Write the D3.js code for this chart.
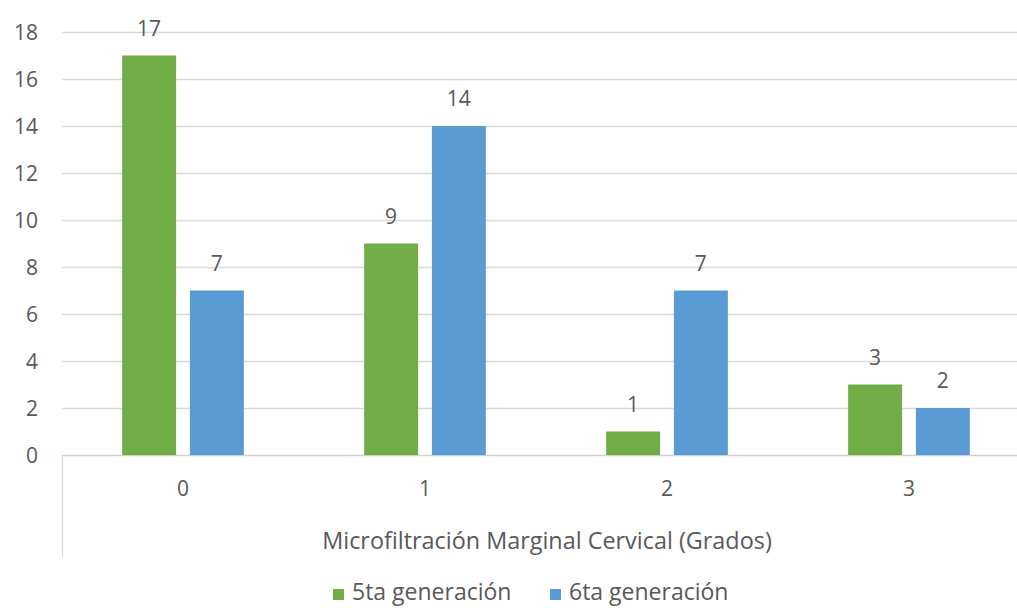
<!DOCTYPE html>
<html>
<head>
<meta charset="utf-8">
<script src="https://cdn.jsdelivr.net/npm/d3@7/dist/d3.min.js"></script>
<style>
  html, body { margin: 0; padding: 0; background: #fff; }
  svg { display: block; }
  text { font-family: "Open Sans", "Noto Sans", sans-serif; fill: #595959; }
</style>
</head>
<body>
<svg id="chart" width="1017" height="608"></svg>
<script>
// Grades of cervical marginal microleakage
const categories = ["0", "1", "2", "3"];
const seriesNames = ["5ta generación", "6ta generación"];
const gen5 = [17, 9, 1, 3];
const gen6 = [7, 14, 7, 2];
const yTicks = [0, 2, 4, 6, 8, 10, 12, 14, 16, 18];
const colors = ["#70AD47", "#5B9BD5"];
const axisTitle = "Microfiltración Marginal Cervical (Grados)";

const svg = d3.select("#chart");
const plotLeft = 62, plotRight = 1030, plotTop = 32, plotBottom = 455;

const x = d3.scaleBand().domain(categories).range([plotLeft, plotRight]).padding(0);
const y = d3.scaleLinear().domain([0, 18]).range([plotBottom, plotTop]);

const barW = x.bandwidth() * 0.223;
const gap = x.bandwidth() * 0.057;

// horizontal gridlines
svg.append("g").selectAll("line").data(yTicks.filter(d => d > 0)).join("line")
  .attr("x1", plotLeft).attr("x2", 1017)
  .attr("y1", d => Math.round(y(d)) + 0.5).attr("y2", d => Math.round(y(d)) + 0.5)
  .attr("stroke", "#d9d9d9").attr("stroke-width", 1.3);

// y tick labels
svg.append("g").selectAll("text").data(yTicks).join("text")
  .attr("x", 38).attr("y", d => y(d)).attr("dy", "0.36em")
  .attr("text-anchor", "end").attr("font-size", 21)
  .text(d => d);

// category axis baseline and left boundary
svg.append("line").attr("x1", plotLeft).attr("x2", 1017)
  .attr("y1", plotBottom + 0.5).attr("y2", plotBottom + 0.5)
  .attr("stroke", "#d0d0d0").attr("stroke-width", 1.5);
svg.append("line").attr("x1", plotLeft + 0.5).attr("x2", plotLeft + 0.5)
  .attr("y1", plotBottom).attr("y2", 557)
  .attr("stroke", "#d9d9d9").attr("stroke-width", 1.3);

// bars
const series = [gen5, gen6];
series.forEach((vals, si) => {
  const xOff = si === 0 ? -(gap / 2 + barW) : gap / 2;
  const g = svg.append("g");
  g.selectAll("rect").data(vals).join("rect")
    .attr("x", (d, i) => x(categories[i]) + x.bandwidth() / 2 + xOff)
    .attr("y", d => y(d))
    .attr("width", barW)
    .attr("height", d => y(0) - y(d))
    .attr("fill", colors[si]);
  g.selectAll("text").data(vals).join("text")
    .attr("x", (d, i) => x(categories[i]) + x.bandwidth() / 2 + xOff + barW / 2)
    .attr("y", d => y(d) - 20)
    .attr("text-anchor", "middle").attr("font-size", 21)
    .text(d => d);
});

// category labels
svg.append("g").selectAll("text").data(categories).join("text")
  .attr("x", d => x(d) + x.bandwidth() / 2).attr("y", 496)
  .attr("text-anchor", "middle").attr("font-size", 21)
  .text(d => d);

// axis title
svg.append("text").attr("x", 547).attr("y", 549)
  .attr("text-anchor", "middle").attr("font-size", 23.4)
  .text(axisTitle);

// legend
const legendX = [333, 550];
seriesNames.forEach((name, i) => {
  svg.append("rect").attr("x", legendX[i]).attr("y", 589)
    .attr("width", 11).attr("height", 11).attr("fill", colors[i]);
  svg.append("text").attr("x", legendX[i] + 19).attr("y", 600)
    .attr("font-size", 23).text(name);
});
</script>
</body>
</html>
